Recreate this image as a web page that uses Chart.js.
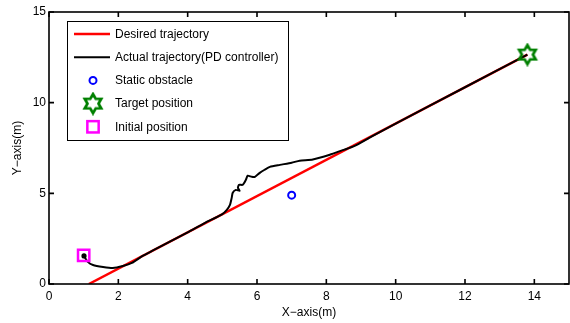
<!DOCTYPE html>
<html>
<head>
<meta charset="utf-8">
<script src="https://cdn.jsdelivr.net/npm/chart.js"></script>
<style>
  html, body { margin: 0; padding: 0; background: #fff; }
  #wrap { width: 570px; height: 323px; }
</style>
</head>
<body>
<div id="wrap"><canvas id="c"></canvas></div>
<script>
// data
const xTicks = [0, 2, 4, 6, 8, 10, 12, 14];
const yTicks = [0, 5, 10, 15];
const desiredX = [1.15, 13.8];
const desiredY = [0, 12.65];
const actualX = [1.01, 1.12, 1.27, 1.56, 1.84, 2.13, 2.39, 2.7, 3.0, 3.5, 4.0, 4.5, 4.99, 5.13,
  5.22, 5.27, 5.30, 5.39, 5.50, 5.45, 5.48, 5.59, 5.68, 5.73, 5.85, 5.94, 6.08, 6.22, 6.37, 6.66,
  7.00, 7.23, 7.61, 8.10, 8.47, 8.80, 9.3, 10, 12, 13.8];
const actualY = [1.55, 1.22, 1.05, 0.94, 0.88, 0.99, 1.16, 1.55, 1.85, 2.35, 2.85, 3.37, 3.84, 4.09,
  4.36, 4.75, 5.03, 5.19, 5.14, 5.30, 5.47, 5.47, 5.75, 5.97, 5.91, 5.91, 6.13, 6.30, 6.46, 6.57,
  6.69, 6.80, 6.87, 7.13, 7.38, 7.60, 8.13, 8.85, 10.85, 12.65];
const obstacle = [7.0, 4.9];
const target = [13.8, 12.65];
const initial = [1.0, 1.58];

const fam = '"Liberation Sans", Arial, sans-serif';

const pts = (xs, ys) => xs.map((x, i) => ({ x: x, y: ys[i] }));

// hexagram marker (outline), like matlab 'h'
function hexagram(r, lw, color) {
  const s = Math.ceil(2 * r + lw + 2);
  const cv = document.createElement('canvas');
  cv.width = s; cv.height = s;
  const g = cv.getContext('2d');
  g.strokeStyle = color;
  g.lineWidth = lw;
  g.lineJoin = 'miter';
  g.beginPath();
  for (let i = 0; i < 12; i++) {
    const a = -Math.PI / 2 + i * Math.PI / 6;
    const rr = i % 2 === 0 ? r : r / Math.sqrt(3);
    const px = s / 2 + rr * Math.cos(a), py = s / 2 + rr * Math.sin(a);
    if (i === 0) g.moveTo(px, py); else g.lineTo(px, py);
  }
  g.closePath();
  g.stroke();
  return cv;
}
const star = hexagram(9.5, 2.7, '#008000');

// matlab-ish frame: box, inward ticks, legend inside axes
const framePlugin = {
  id: 'frame',
  afterDatasetsDraw(chart) {
    const { ctx, chartArea: a, scales } = chart;
    ctx.save();
    ctx.strokeStyle = '#000';
    ctx.lineWidth = 1.6;
    ctx.strokeRect(a.left, a.top, a.right - a.left, a.bottom - a.top);
    ctx.beginPath();
    xTicks.forEach(v => {
      const px = scales.x.getPixelForValue(v);
      ctx.moveTo(px, a.bottom); ctx.lineTo(px, a.bottom - 5);
      ctx.moveTo(px, a.top); ctx.lineTo(px, a.top + 5);
    });
    yTicks.forEach(v => {
      const py = scales.y.getPixelForValue(v);
      ctx.moveTo(a.left, py); ctx.lineTo(a.left + 5, py);
      ctx.moveTo(a.right, py); ctx.lineTo(a.right - 5, py);
    });
    ctx.stroke();
    ctx.restore();
  },
  afterDraw(chart) {
    const ctx = chart.ctx;
    const bx = 67, by = 21, bw = 221, bh = 119;
    ctx.save();
    ctx.fillStyle = '#fff';
    ctx.fillRect(bx, by, bw, bh);
    ctx.strokeStyle = '#000';
    ctx.lineWidth = 1;
    ctx.strokeRect(bx + 0.5, by + 0.5, bw, bh);
    ctx.font = '12px ' + fam;
    ctx.textBaseline = 'middle';
    chart.data.datasets.forEach((ds, i) => {
      const y = by + 13 + i * 23.2;
      const cx = 93;
      if (ds.showLine) {
        ctx.strokeStyle = ds.borderColor;
        ctx.lineWidth = ds.borderWidth;
        ctx.beginPath(); ctx.moveTo(74, y); ctx.lineTo(110, y); ctx.stroke();
      } else if (ds.pointStyle === 'circle') {
        ctx.strokeStyle = ds.borderColor; ctx.lineWidth = ds.borderWidth;
        ctx.beginPath(); ctx.arc(cx, y, ds.pointRadius, 0, Math.PI * 2); ctx.stroke();
      } else if (ds.pointStyle === 'rect') {
        const h = ds.pointRadius * Math.SQRT1_2;
        ctx.strokeStyle = ds.borderColor; ctx.lineWidth = ds.borderWidth;
        ctx.strokeRect(cx - h, y - h, 2 * h, 2 * h);
      } else {
        ctx.drawImage(ds.pointStyle, cx - ds.pointStyle.width / 2, y - ds.pointStyle.height / 2);
      }
      ctx.fillStyle = '#000';
      ctx.fillText(ds.label, 115, y + 0.5);
    });
    ctx.restore();
  }
};

new Chart(document.getElementById('c'), {
  type: 'scatter',
  data: {
    datasets: [
      {
        label: 'Desired trajectory',
        data: pts(desiredX, desiredY),
        showLine: true, borderColor: '#ff0000', borderWidth: 2.5,
        pointRadius: 0, order: 2
      },
      {
        label: 'Actual trajectory(PD controller)',
        data: pts(actualX, actualY),
        showLine: true, borderColor: '#000', backgroundColor: '#000', borderWidth: 2,
        tension: 0.2,
        pointRadius: c => c.dataIndex === 0 ? 1.6 : 0, order: 1
      },
      {
        label: 'Static obstacle',
        data: [{ x: obstacle[0], y: obstacle[1] }],
        pointStyle: 'circle', pointRadius: 3.5, borderWidth: 2,
        borderColor: '#0000ff', backgroundColor: '#fff', order: 0
      },
      {
        label: 'Target position',
        data: [{ x: target[0], y: target[1] }],
        pointStyle: star, order: -1
      },
      {
        label: 'Initial position',
        data: [{ x: initial[0], y: initial[1] }],
        pointStyle: 'rect', pointRadius: 8, borderWidth: 2.5,
        borderColor: '#ff00ff', backgroundColor: 'rgba(0,0,0,0)', order: -2
      }
    ]
  },
  options: {
    responsive: true,
    maintainAspectRatio: false,
    animation: false,
    layout: { autoPadding: false, padding: { top: 12, right: 1, left: 0, bottom: 0 } },
    plugins: { legend: { display: false }, tooltip: { enabled: false } },
    scales: {
      x: {
        type: 'linear', min: 0, max: 15,
        afterBuildTicks: s => { s.ticks = xTicks.map(v => ({ value: v })); },
        afterFit: s => { s.height = 39; s.paddingLeft = 0; s.paddingRight = 0; },
        grid: { display: false, drawTicks: false },
        border: { display: false },
        ticks: { color: '#000', font: { family: fam, size: 12 }, padding: 5, maxRotation: 0 },
        title: { display: true, text: 'X\u2212axis(m)', color: '#000', font: { family: fam, size: 12 }, padding: { top: 0, bottom: 3 } }
      },
      y: {
        type: 'linear', min: 0, max: 15,
        afterBuildTicks: s => { s.ticks = yTicks.map(v => ({ value: v })); },
        afterFit: s => { s.width = 49; s.paddingTop = 0; s.paddingBottom = 0; },
        grid: { display: false, drawTicks: false },
        border: { display: false },
        ticks: { color: '#000', font: { family: fam, size: 12 }, padding: 3 },
        title: { display: true, text: 'Y\u2212axis(m)', color: '#000', font: { family: fam, size: 12 }, padding: { top: 10, bottom: 0 } }
      }
    }
  },
  plugins: [framePlugin]
});
</script>
</body>
</html>
